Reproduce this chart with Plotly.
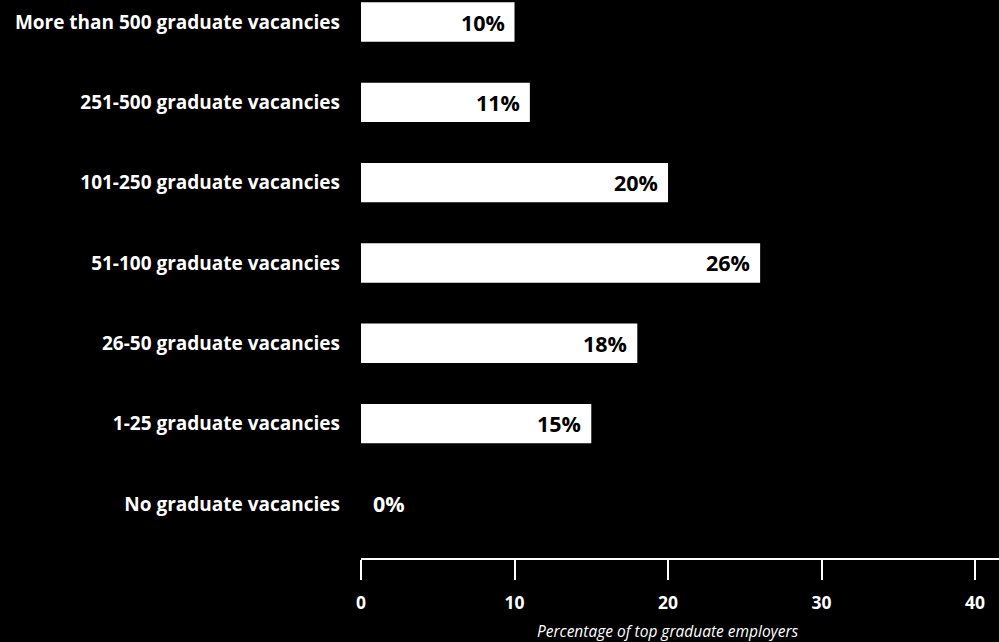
import plotly.graph_objects as go

# Share of top graduate employers by number of graduate vacancies
categories = [
    "More than 500 graduate vacancies",
    "251-500 graduate vacancies",
    "101-250 graduate vacancies",
    "51-100 graduate vacancies",
    "26-50 graduate vacancies",
    "1-25 graduate vacancies",
    "No graduate vacancies",
]
values = [10, 11, 20, 26, 18, 15, 0]
x_ticks = [0, 10, 20, 30, 40]
x_title = "Percentage of top graduate employers"

FONT = "Open Sans"

fig = go.Figure(
    go.Bar(
        x=values,
        y=categories,
        orientation="h",
        marker=dict(color="white", line=dict(width=0)),
        width=0.49,
        hoverinfo="skip",
    )
)

# Value labels: inside the bar end for non-zero bars, just right of the axis for zero
for cat, v in zip(categories, values):
    inside = v > 0
    fig.add_annotation(
        x=v,
        y=cat,
        xref="x",
        yref="y",
        text=f"{v}%",
        showarrow=False,
        xanchor="right" if inside else "left",
        xshift=-8 if inside else 10,
        font=dict(family=FONT, size=21.5, color="black" if inside else "white", weight="bold"),
    )

# Axis title, centred under the 20 tick
fig.add_annotation(
    x=20,
    y=0,
    xref="x",
    yref="paper",
    yshift=-73,
    yanchor="middle",
    xanchor="center",
    text=x_title,
    showarrow=False,
    font=dict(family=FONT, size=15.5, color="white", style="italic"),
)

fig.update_layout(
    width=999,
    height=642,
    paper_bgcolor="black",
    plot_bgcolor="black",
    margin=dict(l=361, r=0, t=0, b=84),
    showlegend=False,
    font=dict(family=FONT, color="white"),
)

fig.update_xaxes(
    range=[0, 41.56],
    tickvals=x_ticks,
    ticktext=[str(t) for t in x_ticks],
    showgrid=False,
    zeroline=False,
    showline=True,
    linecolor="white",
    linewidth=2,
    ticks="outside",
    ticklen=20,
    tickwidth=2,
    tickcolor="white",
    ticklabelstandoff=8,
    tickfont=dict(family=FONT, size=17.5, color="white", weight="bold"),
)

fig.update_yaxes(
    categoryorder="array",
    categoryarray=categories,
    range=[6.673, -0.274],
    showgrid=False,
    zeroline=False,
    showline=False,
    ticks="",
    ticklabelstandoff=20,
    tickfont=dict(family=FONT, size=19, color="white", weight="bold"),
)

fig.write_html("out.html")
